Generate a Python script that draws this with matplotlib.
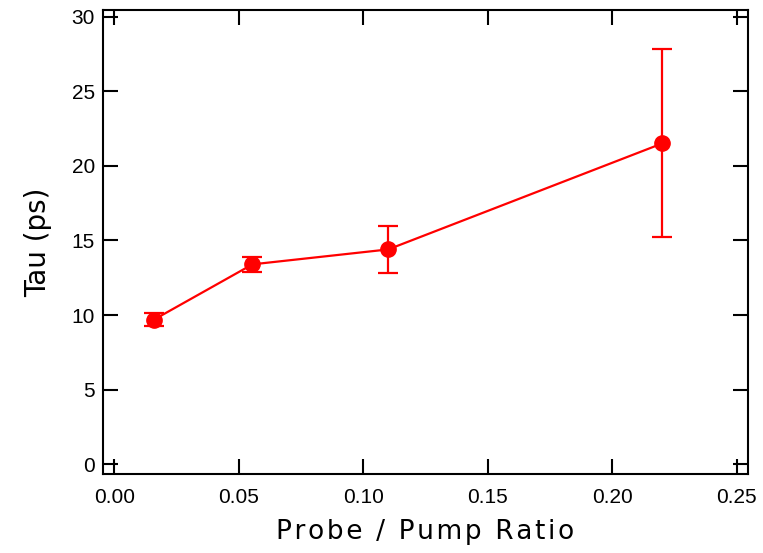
import matplotlib
matplotlib.use("Agg")
import matplotlib.pyplot as plt

ratio = [0.016, 0.0555, 0.110, 0.220]
tau = [9.7, 13.4, 14.4, 21.5]
tau_err = [0.45, 0.5, 1.6, 6.3]

fig = plt.figure(figsize=(7.63, 5.53), dpi=100)
ax = fig.add_axes([0.1354, 0.1429, 0.8446, 0.8391])

ax.errorbar(ratio, tau, yerr=tau_err, color='red', marker='o', markersize=11,
            linewidth=1.6, elinewidth=1.6, capsize=7, capthick=1.6)

ax.set_xlim(-0.0044, 0.2544)
ax.set_ylim(-0.65, 30.45)
ax.set_xticks([0.00, 0.05, 0.10, 0.15, 0.20, 0.25])
ax.set_yticks([0, 5, 10, 15, 20, 25, 30])
ax.xaxis.set_major_formatter(matplotlib.ticker.FormatStrFormatter('%.2f'))

ax.tick_params(direction='in', length=11, width=1.5, top=True, right=True,
               labelsize=15)
ax.tick_params(axis='x', pad=10)
ax.tick_params(axis='y', pad=6)
for lab in ax.get_xticklabels() + ax.get_yticklabels():
    lab.set_fontfamily('Liberation Sans')
for s in ax.spines.values():
    s.set_linewidth(1.5)

# spaced-out letters, like the original label font
words = ['Probe', '/', 'Pump', 'Ratio']
xlab = ' \u2009'.join('\u200a'.join(w) for w in words)
ax.set_xlabel(xlab, fontsize=19, labelpad=9)
ax.set_ylabel('Tau (ps)', fontsize=20, labelpad=14)

fig.savefig('out.png', dpi=100)
